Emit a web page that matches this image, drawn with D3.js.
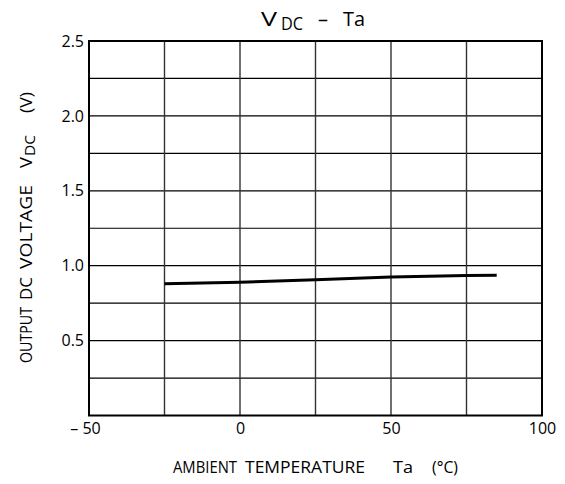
<!DOCTYPE html>
<html><head><meta charset="utf-8">
<script src="https://cdn.jsdelivr.net/npm/d3@7"></script>
<style>body{margin:0;background:#fff}svg{display:block}text{font-family:"Open Sans","Noto Sans",sans-serif;fill:#000}</style>
</head><body>
<svg id="c" width="565" height="484"></svg>
<script>
const temps = [-25, 0, 25, 50, 75, 85];
const vdc = [0.88, 0.89, 0.906, 0.924, 0.935, 0.937];
const xTicks = [-50, 0, 50, 100];
const xTickLabels = ["\u2013 50", "0", "50", "100"];
const yTicks = [0.5, 1.0, 1.5, 2.0, 2.5];
const yGrid = [0.25, 0.5, 0.75, 1.0, 1.25, 1.5, 1.75, 2.0, 2.25];
const xGrid = [-25, 0, 25, 50, 75];

const FONT = '"Open Sans","Noto Sans",sans-serif';
const svg = d3.select("#c");
const L = 89, R = 542, T = 41, B = 415.5;
const x = d3.scaleLinear().domain([-50, 100]).range([L, R]);
const y = d3.scaleLinear().domain([0, 2.5]).range([B, T]);

// grid
svg.append("g").selectAll("line").data(yGrid).join("line")
  .attr("x1", L).attr("x2", R).attr("y1", d => y(d)).attr("y2", d => y(d))
  .attr("stroke", "#000").attr("stroke-width", 1.2);
svg.append("g").selectAll("line").data(xGrid).join("line")
  .attr("y1", T).attr("y2", B).attr("x1", d => x(d)).attr("x2", d => x(d))
  .attr("stroke", "#333").attr("stroke-width", 1.4);

// frame
svg.append("rect").attr("x", L).attr("y", T).attr("width", R - L).attr("height", B - T)
  .attr("fill", "none").attr("stroke", "#000").attr("stroke-width", 2);

// axes labels via d3 axes
const xAxis = d3.axisBottom(x).tickValues(xTicks).tickSize(0).tickPadding(7)
  .tickFormat((d, i) => xTickLabels[i]);
const gx = svg.append("g").attr("transform", `translate(0,${B})`).call(xAxis);
gx.select(".domain").remove();
gx.selectAll("text").attr("font-size", 16).attr("font-family", FONT).attr("fill", "#000");
gx.selectAll(".tick").filter(d => d === -50).select("text").attr("dx", -4);

const yAxis = d3.axisLeft(y).tickValues(yTicks).tickSize(0).tickPadding(5)
  .tickFormat(d3.format(".1f"));
const gy = svg.append("g").attr("transform", `translate(${L},0)`).call(yAxis);
gy.select(".domain").remove();
gy.selectAll("text").attr("font-size", 16).attr("font-family", FONT).attr("fill", "#000");

// data line
svg.append("path").datum(temps.map((t, i) => [t, vdc[i]]))
  .attr("d", d3.line().x(d => x(d[0])).y(d => y(d[1])))
  .attr("fill", "none").attr("stroke", "#000").attr("stroke-width", 3);

// word helper: fixed start and length
function word(g, px, py, str, len, size) {
  g.append("text").attr("x", px).attr("y", py).attr("font-size", size)
    .attr("textLength", len).attr("lengthAdjust", "spacingAndGlyphs").text(str);
}

// title
const tg = svg.append("g");
word(tg, 261, 26, "V", 16, 19.5);
word(tg, 281, 30, "DC", 22, 18);
word(tg, 318, 26, "\u2013", 10, 19.5);
word(tg, 343, 26, "Ta", 22, 19.5);

// x title
const xg = svg.append("g");
word(xg, 173, 473, "AMBIENT", 64, 16.5);
word(xg, 245, 473, "TEMPERATURE", 120, 16.5);
word(xg, 393, 473, "Ta", 20, 16.5);
word(xg, 432, 473, "(\u00B0C)", 26, 16.5);

// y title (rotated; x = -pageY)
const yg = svg.append("g").attr("transform", "translate(32,0) rotate(-90)");
word(yg, -363, 0, "OUTPUT", 56, 16.5);
word(yg, -300, 0, "DC", 23, 16.5);
word(yg, -269, 0, "VOLTAGE", 84, 16.5);
word(yg, -168, 0, "V", 11, 16.5);
word(yg, -156, 3, "DC", 21, 15);
word(yg, -113, 0, "(V)", 21, 16.5);
</script>
</body></html>
